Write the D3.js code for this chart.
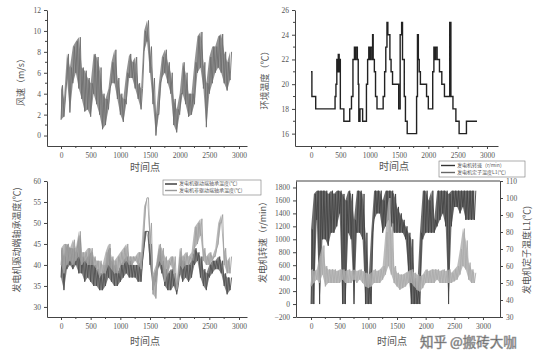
<!DOCTYPE html>
<html><head><meta charset="utf-8">
<script src="https://cdn.jsdelivr.net/npm/d3@7"></script>
<style>
body{margin:0;background:#fff;}
svg{display:block;}
text{font-family:"Liberation Serif","Noto Sans CJK SC",serif;fill:#555;}
.cjk{font-family:"Noto Sans CJK SC","Liberation Serif",serif;}
</style></head>
<body>
<svg id="c" width="543" height="352"></svg>
<script>
// ---------- DATA ----------
const timeBins = [0,50,100,150,200,250,300,350,400,450,500,550,600,650,700,750,800,850,900,950,1000,1050,1100,1150,1200,1250,1300,1350,1400,1450,1500,1550,1600,1650,1700,1750,1800,1850,1900,1950,2000,2050,2100,2150,2200,2250,2300,2350,2400,2450,2500,2550,2600,2650,2700,2750,2800,2850];
const xTicks = [0,500,1000,1500,2000,2500,3000];

// wind speed (m/s): low / high within each time bin
const windLo = [1.5,1.8,5.5,2.2,5,6,4.5,3.5,2.3,2.5,1.8,4,3,2,0.6,1,2.5,5,5,3.5,2,1.3,3,5.5,5.5,4.5,3.5,2.5,8,9,6,3,0,2,5.5,6,5,4,1,0.3,2,4,3,1.8,2,3,6,6.5,4.5,0.8,4,5,6,6.5,6,5,4.3,5.3];
const windHi = [4.8,3.5,7.8,6.5,8.5,9,9.4,6.5,6.2,5.5,5,7.8,7.5,6.5,4,3.5,4.5,7,8.2,5.5,4,3.5,6,7.8,7,7.5,5,4.5,10,11,8.5,5.5,2,5,7.5,8.2,7,6,3.5,2.5,4,7,6,4,4,7,9.5,9.9,7,5,7.5,8.5,8.5,9.5,9.7,8,7,8];

// ambient temperature (°C), step changes
const ambT = [0,15,80,410,425,440,455,465,480,490,500,560,660,690,715,740,755,765,790,805,815,835,880,945,965,985,1000,1015,1040,1050,1060,1080,1100,1125,1230,1255,1275,1295,1310,1345,1365,1390,1495,1520,1545,1560,1590,1610,1640,1800,1815,1830,1845,1865,1970,2000,2075,2095,2110,2125,2150,2190,2230,2275,2365,2385,2420,2470,2525,2650,2830];
const ambV = [21,19,18,19,20,22,21,22.4,21,22,18,17,18,19,22,23,22,23,22,20,17,18,17,20,22,23,22,23,22,24,22,21,19,18,19,21,23,25,24,22,21,20,18,24,25,22,19,17,16,19,24,22,21,20,19,18,21,23,22,23,22,21,20,19,25,19,18,17,16,17,17];

// bearing temperatures (°C)
const deLo = [37,34,39,40,39,40,38,38,36,37,36,35,35,34,34,35,37,36,35,35,36,37,38,37,37,37,36,36,44,48,40,34,36,40,38,35,34,34,35,33,38,36,37,36,37,40,41,37,35,34,37,38,39,39,38,35,33,34];
const deHi = [44,42,45,44,44,43,47,42,41,42,43,40,39,38,38,40,44,41,40,38,40,41,42,41,40,40,40,41,48,48,45,37,39,44,41,39,38,39,38,35,42,41,40,40,41,44,43,42,39,38,40,41,41,42,41,38,37,37];
const ndeLo = [40,38,40,41,40,41,42,40,41,40,40,40,39,37,38,38,40,39,38,38,40,40,41,40,40,41,40,39,48,56,45,33,32,41,40,36,38,40,38,34,40,39,40,40,41,44,45,47,41,40,40,41,42,45,50,40,38,38];
const ndeHi = [44,45,45,44,46,44,48,43,43,44,44,42,41,41,40,43,45,42,41,42,43,44,45,42,42,42,43,43,54,56,50,38,40,45,44,42,41,42,42,36,44,42,43,42,43,49,50,51,44,42,43,42,44,50,52,44,41,42];

// generator speed (r/min) and stator temperature L1 (°C)
const spdLo = [0,0,1300,0,1000,1000,900,1100,1100,1200,1400,0,0,1100,1000,0,1100,1100,1000,0,0,0,1300,1400,1400,1100,1200,1300,1200,1100,1100,1100,1100,1000,500,0,0,0,0,1000,1100,1100,1100,1100,1200,1300,1400,1200,0,1200,1500,1500,1400,1500,1300,1300,1300,1300];
const spdHi = [1150,1700,1750,1750,1750,1750,1700,1750,1700,1750,1750,1700,1600,1750,1700,1300,1750,1750,1700,1100,300,1100,1750,1750,1750,1600,1750,1750,1750,1700,1500,1400,1300,1200,1100,1000,400,200,1100,1750,1750,1600,1750,1300,1750,1750,1750,1750,1700,1750,1750,1750,1750,1750,1750,1750,1750,1750];
const statLo = [48,50,52,50,55,48,50,50,50,50,50,52,50,50,50,52,50,52,50,48,47,48,50,50,50,52,55,60,55,50,48,46,47,48,50,50,48,46,45,47,50,50,50,50,52,50,50,50,50,50,51,52,55,60,58,52,50,50];
const statHi = [58,57,58,66,72,60,58,58,58,57,58,58,57,58,57,58,57,58,57,56,55,56,58,57,58,60,80,100,85,60,56,55,55,56,57,58,56,55,54,55,58,57,58,58,58,57,58,57,58,56,58,60,70,82,75,62,58,56];

// ---------- DRAW ----------
const svg = d3.select("#c");
const AX = "#444";
const fmt = d3.format("d");

function zig(lo, hi){
  const pts=[];
  timeBins.forEach((t,i)=>{ pts.push([t,lo[i]]); pts.push([t+25,hi[i]]); });
  return pts;
}
function band(g, x, y, lo, hi, col, op){
  g.append("path").datum(timeBins.map((t,i)=>[t,lo[i],hi[i]]))
    .attr("fill",col).attr("fill-opacity",op).attr("stroke","none")
    .attr("d",d3.area().x(d=>x(d[0])).y0(d=>y(d[1])).y1(d=>y(d[2])));
  g.append("path").datum(zig(lo,hi)).attr("fill","none").attr("stroke",col).attr("stroke-width",0.9)
    .attr("d",d3.line().x(d=>x(d[0])).y(d=>y(d[1])));
}
function styleAxis(g){
  g.selectAll("path").attr("stroke",AX).attr("stroke-width",1);
  g.selectAll("line").attr("stroke",AX);
  g.selectAll("text").attr("font-size","7.5px").attr("fill","#555").attr("font-family","Liberation Serif");
}
function minor(g, scale, vals, orient, pos){
  vals.forEach(v=>{
    const p = scale(v);
    if(orient==="bottom") g.append("line").attr("x1",p).attr("x2",p).attr("y1",pos).attr("y2",pos+2).attr("stroke",AX);
    else if(orient==="left") g.append("line").attr("x1",pos).attr("x2",pos-2).attr("y1",p).attr("y2",p).attr("stroke",AX);
    else g.append("line").attr("x1",pos).attr("x2",pos+2).attr("y1",p).attr("y2",p).attr("stroke",AX);
  });
}
function title(x,y,txt,rot,size){
  svg.append("text").attr("class","cjk").attr("transform",`translate(${x},${y}) rotate(${rot||0})`)
    .attr("text-anchor","middle").attr("dominant-baseline","middle").attr("font-size",size||"9px").attr("fill","#555").text(txt);
}
const xMinor = [250,750,1250,1750,2250,2750];

// Panel 1: wind speed
{
  const x = d3.scaleLinear([-236,3135],[47,247]);
  const y = d3.scaleLinear([-1,12],[146,10]);
  const g = svg.append("g");
  band(g,x,y,windLo,windHi,"#6e6e6e",0.75);
  const ax = g.append("g").attr("transform","translate(0,146)").call(d3.axisBottom(x).tickValues(xTicks).tickFormat(fmt).tickSize(3).tickSizeOuter(0).tickPadding(4)); styleAxis(ax);
  const ay = g.append("g").attr("transform","translate(47,0)").call(d3.axisLeft(y).tickValues([0,2,4,6,8,10,12]).tickFormat(fmt).tickSize(3).tickSizeOuter(0).tickPadding(3)); styleAxis(ay);
  minor(g,x,xMinor,"bottom",146); minor(g,y,[1,3,5,7,9,11],"left",47);
  title(22,80,"风速（m/s）",-90,"9px");
  title(145,168,"时间点",0,"10px");
}
// Panel 2: ambient temperature
{
  const x = d3.scaleLinear([-273,3188],[295,498]);
  const y = d3.scaleLinear([15,26],[146,10]);
  const g = svg.append("g");
  g.append("path").datum(ambT.map((t,i)=>[t,ambV[i]])).attr("fill","none").attr("stroke","#222").attr("stroke-width",1.4)
    .attr("d",d3.line().curve(d3.curveStepAfter).x(d=>x(d[0])).y(d=>y(d[1])));
  const ax = g.append("g").attr("transform","translate(0,146)").call(d3.axisBottom(x).tickValues(xTicks).tickFormat(fmt).tickSize(3).tickSizeOuter(0).tickPadding(4)); styleAxis(ax);
  const ay = g.append("g").attr("transform","translate(295,0)").call(d3.axisLeft(y).tickValues([16,18,20,22,24,26]).tickFormat(fmt).tickSize(3).tickSizeOuter(0).tickPadding(3)); styleAxis(ay);
  minor(g,x,xMinor,"bottom",146); minor(g,y,[17,19,21,23,25],"left",295);
  title(266,78,"环境温度（℃）",-90,"9px");
  title(394,167,"时间点",0,"10px");
}
// Panel 3: bearing temperatures
{
  const x = d3.scaleLinear([-236,3135],[47,247]);
  const y = d3.scaleLinear([27.6,60],[317,181]);
  const g = svg.append("g");
  band(g,x,y,deLo,deHi,"#505050",0.7);
  band(g,x,y,ndeLo,ndeHi,"#a0a0a0",0.75);
  const ax = g.append("g").attr("transform","translate(0,317)").call(d3.axisBottom(x).tickValues(xTicks).tickFormat(fmt).tickSize(3).tickSizeOuter(0).tickPadding(4)); styleAxis(ax);
  const ay = g.append("g").attr("transform","translate(47,0)").call(d3.axisLeft(y).tickValues([30,35,40,45,50,55,60]).tickFormat(fmt).tickSize(3).tickSizeOuter(0).tickPadding(3)); styleAxis(ay);
  minor(g,x,xMinor,"bottom",317);
  title(18,240,"发电机驱动端轴承温度(℃)",-90,"9px");
  title(145,342,"时间点",0,"10px");
  const lg = g.append("g");
  lg.append("rect").attr("x",163).attr("y",180).attr("width",98).attr("height",15).attr("fill","#fff").attr("stroke","#777").attr("stroke-width",0.6);
  [["发电机驱动端轴承温度(℃)","#333"],["发电机非驱动端轴承温度(℃)","#999"]].forEach((d,i)=>{
    lg.append("line").attr("x1",165).attr("x2",177).attr("y1",184+i*6.5).attr("y2",184+i*6.5).attr("stroke",d[1]).attr("stroke-width",1.4);
    lg.append("text").attr("class","cjk").attr("x",179).attr("y",184+i*6.5).attr("dominant-baseline","middle").attr("font-size","5px").attr("fill","#777").text(d[0]);
  });
}
// Panel 4: speed & stator temperature
{
  const x = d3.scaleLinear([-262,3297],[296,500]);
  const yL = d3.scaleLinear([-200,1900],[317,181]);
  const yR = d3.scaleLinear([30,110],[317,181]);
  const g = svg.append("g");
  band(g,x,yL,spdLo,spdHi,"#444",0.78);
  band(g,x,yR,statLo,statHi,"#ababab",0.8);
  g.append("line").attr("x1",296).attr("x2",500).attr("y1",181).attr("y2",181).attr("stroke",AX);
  const ax = g.append("g").attr("transform","translate(0,317)").call(d3.axisBottom(x).tickValues(xTicks).tickFormat(fmt).tickSize(3).tickSizeOuter(0).tickPadding(4)); styleAxis(ax);
  const ay = g.append("g").attr("transform","translate(296,0)").call(d3.axisLeft(yL).tickValues(d3.range(-200,1801,200)).tickFormat(fmt).tickSize(3).tickSizeOuter(0).tickPadding(3)); styleAxis(ay);
  const ar = g.append("g").attr("transform","translate(500,0)").call(d3.axisRight(yR).tickValues(d3.range(30,111,10)).tickFormat(fmt).tickSize(3).tickSizeOuter(0).tickPadding(3)); styleAxis(ar);
  minor(g,x,xMinor,"bottom",317);
  title(264,240,"发电机转速（r/min）",-90,"9px");
  title(528,250,"发电机定子温度L1(℃)",-90,"9px");
  title(392,342,"时间点",0,"10px");
  const lg = g.append("g");
  lg.append("rect").attr("x",439).attr("y",161).attr("width",86).attr("height",16).attr("fill","#fff").attr("stroke","#777").attr("stroke-width",0.6);
  [["发电机转速（r/min）","#333"],["发电机定子温度L1(℃)","#666"]].forEach((d,i)=>{
    lg.append("line").attr("x1",441).attr("x2",455).attr("y1",165.5+i*7).attr("y2",165.5+i*7).attr("stroke",d[1]).attr("stroke-width",1.4);
    lg.append("text").attr("class","cjk").attr("x",457).attr("y",165.5+i*7).attr("dominant-baseline","middle").attr("font-size","5px").attr("fill","#777").text(d[0]);
  });
}
// watermark
svg.append("text").attr("class","cjk").attr("x",420).attr("y",343).attr("dominant-baseline","middle")
  .attr("font-size","13.5px").attr("fill","rgba(255,255,255,0.55)").attr("stroke","#9a9a9a").attr("stroke-width",0.6).text("知乎 @搬砖大咖");
</script>
</body></html>
